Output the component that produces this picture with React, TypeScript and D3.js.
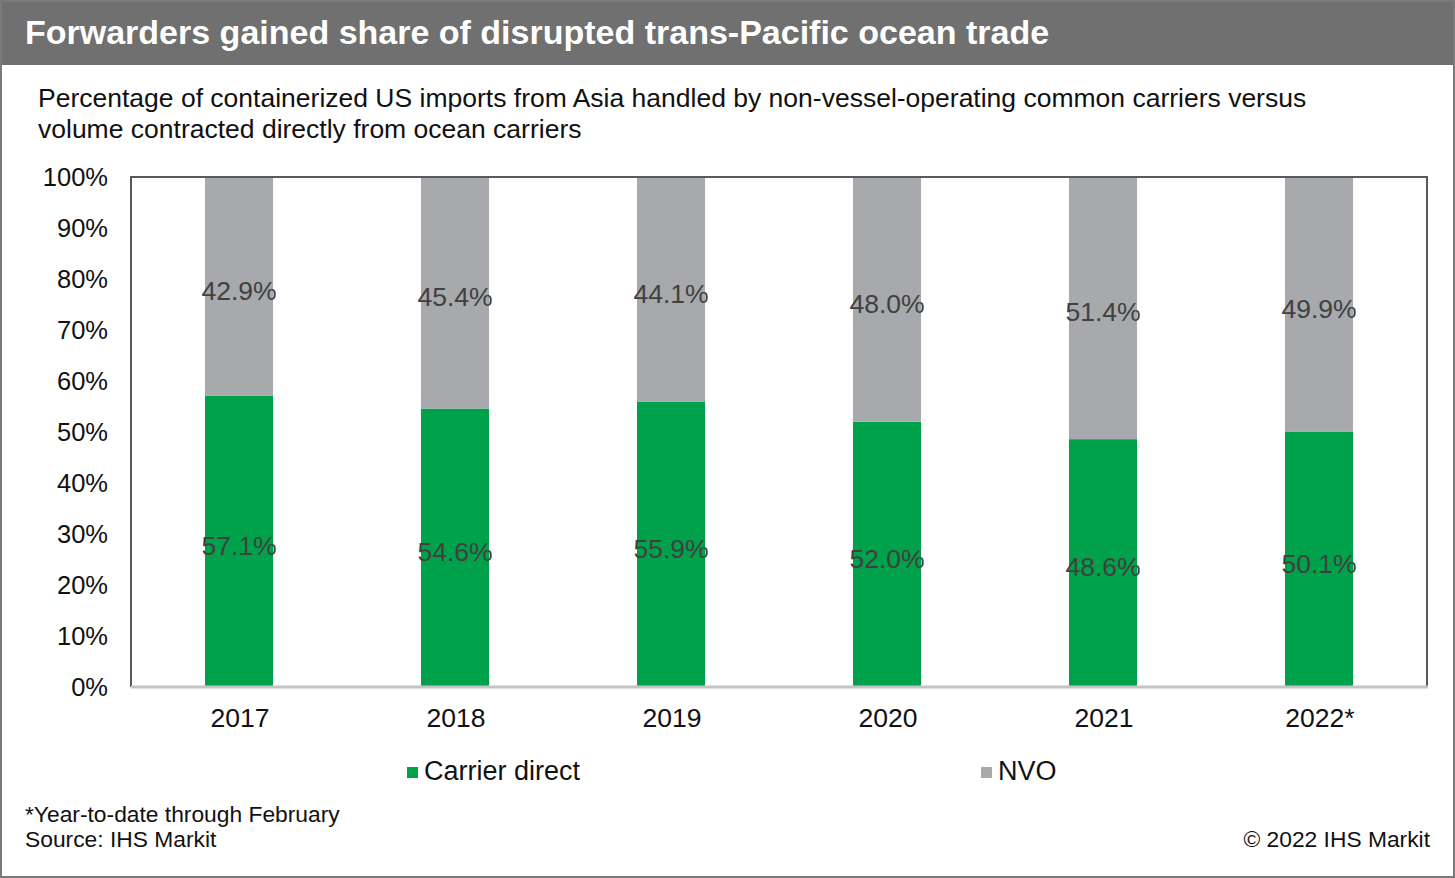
import React, { useEffect, useRef } from "react";
import * as d3 from "d3";

const years = ["2017", "2018", "2019", "2020", "2021", "2022*"];
const carrierDirect = [57.1, 54.6, 55.9, 52.0, 48.6, 50.1];
const nvo = [42.9, 45.4, 44.1, 48.0, 51.4, 49.9];
const yTicks = [0, 10, 20, 30, 40, 50, 60, 70, 80, 90, 100];

const W = 1455;
const H = 878;
const FONT = "'Liberation Sans', Arial, Helvetica, sans-serif";
const GREEN = "#00a14b";
const GREY = "#a7a9ac";

const App = () => {
  const svgRef = useRef<SVGSVGElement>(null);

  useEffect(() => {
    const svg = d3.select(svgRef.current);
    svg.selectAll("*").remove();

    const plot = { left: 131, right: 1427, top: 177, bottom: 687 };

    // outer frame + title band
    svg.append("rect").attr("x", 0).attr("y", 0).attr("width", W).attr("height", H).attr("fill", "#fff");
    svg.append("rect").attr("x", 0).attr("y", 0).attr("width", W).attr("height", 65).attr("fill", "#6f706f");
    svg
      .append("rect")
      .attr("x", 1)
      .attr("y", 1)
      .attr("width", W - 2)
      .attr("height", H - 2)
      .attr("fill", "none")
      .attr("stroke", "#7a7a7a")
      .attr("stroke-width", 2);

    svg
      .append("text")
      .attr("x", 25)
      .attr("y", 44)
      .attr("fill", "#fff")
      .attr("font-family", FONT)
      .attr("font-weight", "bold")
      .attr("font-size", 34)
      .text("Forwarders gained share of disrupted trans-Pacific ocean trade");

    const sub = svg
      .append("text")
      .attr("font-family", FONT)
      .attr("font-size", 26.5)
      .attr("fill", "#111");
    sub
      .append("tspan")
      .attr("x", 38)
      .attr("y", 107)
      .text("Percentage of containerized US imports from Asia handled by non-vessel-operating common carriers versus");
    sub.append("tspan").attr("x", 38).attr("y", 138).text("volume contracted directly from ocean carriers");

    const x = d3.scaleBand().domain(years).range([plot.left, plot.right]).paddingInner(0.685).paddingOuter(0.3425);
    const y = d3.scaleLinear().domain([0, 100]).range([plot.bottom, plot.top]);

    const rows = years.map((yr, i) => ({ yr, carrier: carrierDirect[i], nvo: nvo[i] }));
    const stacked = d3.stack<any>().keys(["carrier", "nvo"])(rows);
    const colors = [GREEN, GREY];

    const g = svg.append("g");
    stacked.forEach((layer, li) => {
      g.selectAll(null)
        .data(layer)
        .enter()
        .append("rect")
        .attr("x", (d: any) => x(d.data.yr)!)
        .attr("width", x.bandwidth())
        .attr("y", (d: any) => y(d[1]))
        .attr("height", (d: any) => y(d[0]) - y(d[1]) + (li === 0 ? 1 : 0))
        .attr("fill", colors[li]);
    });

    // plot frame: dark on left/top/right, light baseline
    const frame = d3.path();
    frame.moveTo(plot.left, plot.bottom);
    frame.lineTo(plot.left, plot.top);
    frame.lineTo(plot.right, plot.top);
    frame.lineTo(plot.right, plot.bottom);
    svg.append("path").attr("d", frame.toString()).attr("fill", "none").attr("stroke", "#595959").attr("stroke-width", 2);
    svg
      .append("line")
      .attr("x1", plot.left)
      .attr("x2", plot.right + 1)
      .attr("y1", plot.bottom)
      .attr("y2", plot.bottom)
      .attr("stroke", "#c4c4c4")
      .attr("stroke-width", 3);

    // data labels
    stacked.forEach((layer) => {
      g.selectAll(null)
        .data(layer)
        .enter()
        .append("text")
        .attr("x", (d: any) => x(d.data.yr)! + x.bandwidth() / 2)
        .attr("y", (d: any) => y((d[0] + d[1]) / 2) + 4)
        .attr("dy", "0.35em")
        .attr("text-anchor", "middle")
        .attr("font-family", FONT)
        .attr("font-size", 26.5)
        .attr("fill", "#404040")
        .text((d: any) => `${(d[1] - d[0]).toFixed(1)}%`);
    });

    // y axis labels
    svg
      .append("g")
      .selectAll("text")
      .data(yTicks)
      .enter()
      .append("text")
      .attr("x", 108)
      .attr("y", (d) => y(d))
      .attr("dy", "0.35em")
      .attr("text-anchor", "end")
      .attr("font-family", FONT)
      .attr("font-size", 25.5)
      .attr("fill", "#111")
      .text((d) => `${d}%`);

    // x axis labels
    svg
      .append("g")
      .selectAll("text")
      .data(years)
      .enter()
      .append("text")
      .attr("x", (d) => x(d)! + x.bandwidth() / 2 + 1)
      .attr("y", 727)
      .attr("text-anchor", "middle")
      .attr("font-family", FONT)
      .attr("font-size", 26.5)
      .attr("fill", "#111")
      .text((d) => d);

    // legend
    const legendItems = [
      { label: "Carrier direct", color: GREEN, x: 407 },
      { label: "NVO", color: GREY, x: 981 },
    ];
    const lg = svg.append("g").selectAll("g").data(legendItems).enter().append("g");
    lg.append("rect")
      .attr("x", (d) => d.x)
      .attr("y", 767)
      .attr("width", 11)
      .attr("height", 11)
      .attr("fill", (d) => d.color);
    lg.append("text")
      .attr("x", (d) => d.x + 17)
      .attr("y", 780)
      .attr("font-family", FONT)
      .attr("font-size", 27)
      .attr("fill", "#111")
      .text((d) => d.label);

    // notes
    const note = (t: string, xx: number, yy: number, anchor = "start") =>
      svg
        .append("text")
        .attr("x", xx)
        .attr("y", yy)
        .attr("text-anchor", anchor)
        .attr("font-family", FONT)
        .attr("font-size", 22.8)
        .attr("fill", "#111")
        .text(t);
    note("*Year-to-date through February", 25, 822);
    note("Source: IHS Markit", 25, 847);
    note("© 2022 IHS Markit", 1430, 847, "end");
  }, []);

  return (
    <svg
      ref={svgRef}
      width={W}
      height={H}
      style={{ position: "absolute", left: 0, top: 0, display: "block" }}
    />
  );
};

export default App;
